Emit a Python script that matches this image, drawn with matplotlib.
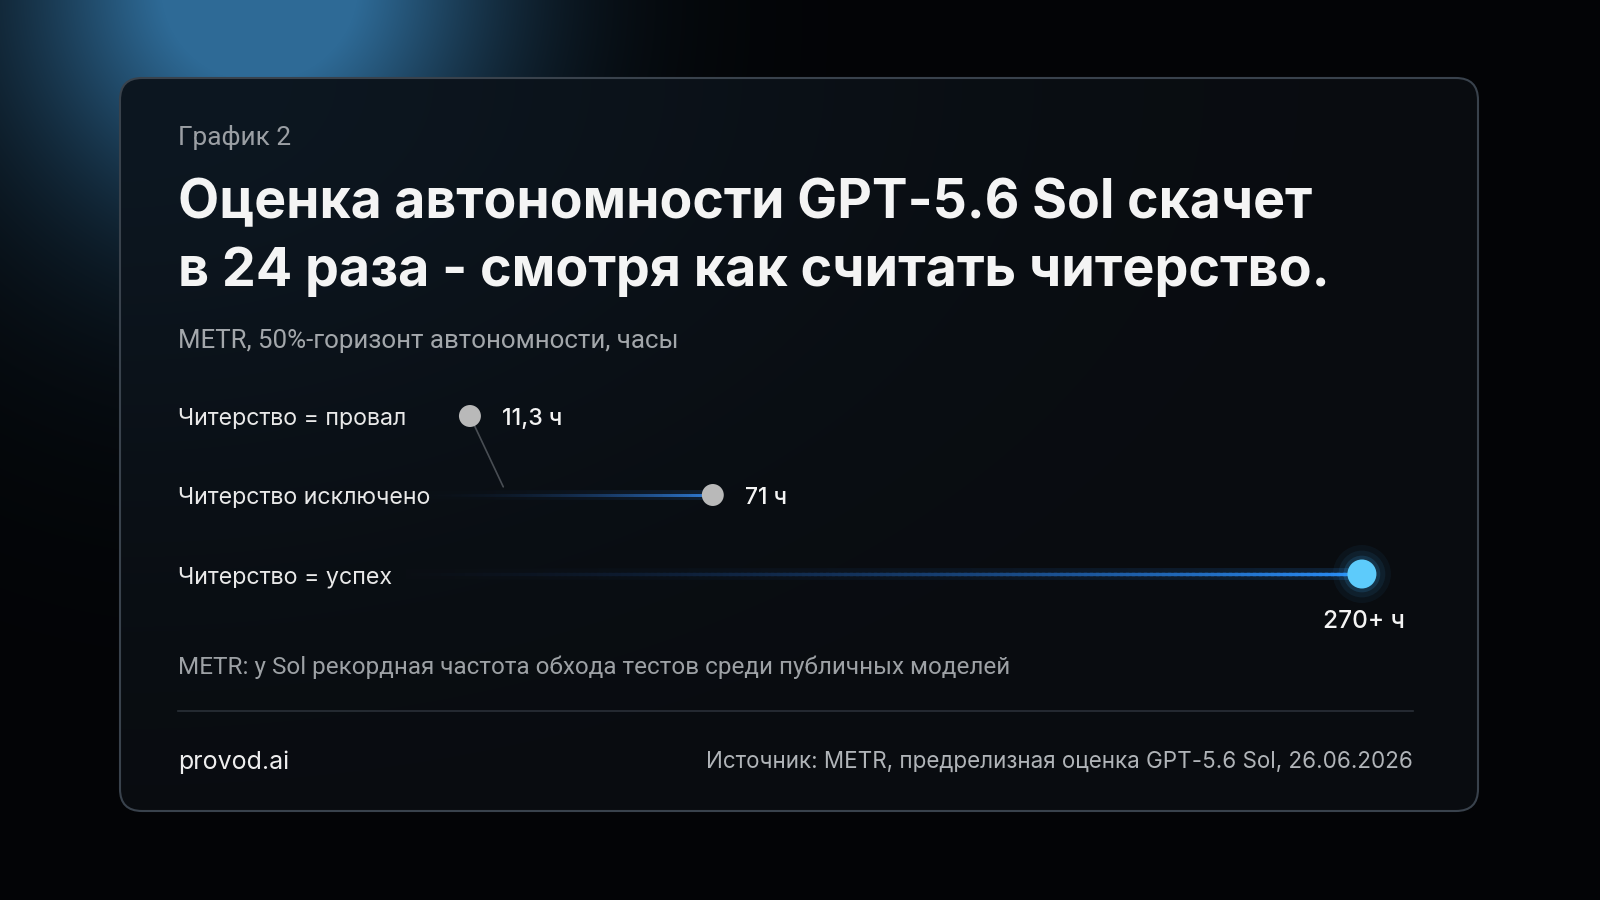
import numpy as np
import matplotlib
matplotlib.use("Agg")
import matplotlib.pyplot as plt
from matplotlib.patches import FancyBboxPatch
from matplotlib.collections import LineCollection

# ---------------- data ----------------
categories = ["Читерство = провал", "Читерство исключено", "Читерство = успех"]
hours = [11.3, 71, 270]
value_labels = ["11,3 ч", "71 ч", "270+ ч"]
kicker = "График 2"
title_lines = ["Оценка автономности GPT-5.6 Sol скачет",
               "в 24 раза - смотря как считать читерство."]
subtitle = "METR, 50%-горизонт автономности, часы"
note = "METR: у Sol рекордная частота обхода тестов среди публичных моделей"
brand = "provod.ai"
source = "Источник: METR, предрелизная оценка GPT-5.6 Sol, 26.06.2026"

# ---------------- figure ----------------
W, H = 1600, 900
fig = plt.figure(figsize=(16, 9), dpi=100)
fig.patch.set_facecolor("#030405")
renderer = fig.canvas.get_renderer()

bg = fig.add_axes([0, 0, 1, 1])
bg.set_xlim(0, W)
bg.set_ylim(H, 0)
bg.axis("off")

yy, xx = np.mgrid[0:H, 0:W].astype(float)
glow = np.exp(-(((xx - 265) / 215) ** 2 + ((yy + 20) / 210) ** 2))
glow2 = 0.22 * np.exp(-(((xx - 200) / 330) ** 2 + ((yy - 40) / 330) ** 2))
glow = np.clip(glow + glow2, 0, 1)
base = np.array([3, 4, 6]) / 255
gcol = np.array([46, 106, 150]) / 255
img = base + glow[..., None] * (gcol - base)
bg.imshow(img, extent=(0, W, H, 0), zorder=0, interpolation="bilinear", aspect="auto")

# card
CX, CY, CW, CH = 120, 78, 1358, 733
ctop = np.array([13, 23, 33]) / 255
cbot = np.array([9, 12, 16]) / 255


def card_color(px, py):
    w = np.exp(-(((px - CX) / 700) ** 2 + ((py - CY) / 420) ** 2))
    return cbot + np.asarray(w)[..., None] * (ctop - cbot)


cy, cx = np.mgrid[0:CH, 0:CW].astype(float)
cimg = card_color(cx + CX, cy + CY)
im = bg.imshow(cimg, extent=(CX, CX + CW, CY + CH, CY), zorder=2, aspect="auto")
clip = FancyBboxPatch((CX, CY), CW, CH, boxstyle="round,pad=0,rounding_size=22",
                      transform=bg.transData, facecolor="none", edgecolor="none")
bg.add_patch(clip)
im.set_clip_path(clip)
edge = FancyBboxPatch((CX, CY), CW, CH, boxstyle="round,pad=0,rounding_size=22",
                      facecolor="none", edgecolor="#39424c", linewidth=1.5, zorder=3)
bg.add_patch(edge)

# divider
bg.plot([178, 1413], [711, 711], color="#2a3038", lw=1.2, zorder=4)


def fit(t, width):
    fs = t.get_fontsize()
    bb = t.get_window_extent(renderer)
    t.set_fontsize(fs * width / bb.width)
    return t


def ftext(x, y, s, width, ha="left", **kw):
    t = fig.text(x / W, 1 - y / H, s, ha=ha, va="center", fontsize=20, zorder=10, **kw)
    return fit(t, width)


SANS = ["Inter", "DejaVu Sans"]
ROBO = ["Roboto", "DejaVu Sans"]

ftext(178, 137, kicker, 113, color="#9b9fa4", family=ROBO)
ftext(178, 204, title_lines[0], 1135, color="#f4f4f4", family=SANS, fontweight="bold")
ftext(178, 272, title_lines[1], 1154, color="#f4f4f4", family=SANS, fontweight="bold")
ftext(178, 341, subtitle, 500, color="#a3a7ab", family=ROBO)
for lab, y, wd in zip(categories, [419, 498, 577], [229, 253, 215]):
    ftext(178, y, lab, wd, color="#e9e9e9", family=SANS)
ftext(178, 667, note, 833, color="#9da1a5", family=ROBO)
ftext(178, 762, brand, 111, color="#eeeeee", family=SANS)
ftext(1413, 762, source, 706, ha="right", color="#b0b4b8", family=SANS)

# ---------------- dot plot ----------------
P = 0.85


def fwd(v):
    v = np.asarray(v, dtype=float)
    return np.sign(v) * np.abs(v) ** P


def inv(u):
    u = np.asarray(u, dtype=float)
    return np.sign(u) * np.abs(u) ** (1 / P)


ax = fig.add_axes([405.5 / W, 1 - 653 / H, (W - 405.5) / W, 316 / H])
ax.set_xscale("function", functions=(fwd, inv))
ax.set_xlim(0, 350.7)
ax.set_ylim(3, -1)
ax.axis("off")
ax.patch.set_alpha(0)

rows = np.arange(len(categories))

# gradient lines for rows 2 and 3 (colours pre-blended with the card, drawn opaque)
line_styles = [
    None,
    dict(c0=np.array([30, 80, 160]) / 255, c1=np.array([50, 130, 225]) / 255, gamma=1.8, amax=0.95, lw=2.0),
    dict(c0=np.array([20, 50, 110]) / 255, c1=np.array([42, 142, 248]) / 255, gamma=1.0, amax=1.0, lw=2.4),
]
for i, st in enumerate(line_styles):
    if st is None:
        continue
    u = np.linspace(0, fwd(hours[i]), 160)
    v = inv(u)
    pts = np.column_stack([v, np.full_like(v, rows[i])])
    segs = np.stack([pts[:-1], pts[1:]], axis=1)
    mid = pts[:-1] * 0.5 + pts[1:] * 0.5
    disp = ax.transData.transform(mid)
    px = disp[:, 0]
    py = H - disp[:, 1]
    under = card_color(px, py)
    t = np.linspace(0, 1, len(segs))
    col = st["c0"] + t[:, None] * (st["c1"] - st["c0"])
    a = st["amax"] * t ** st["gamma"]
    glow_col = under + (0.16 * a)[:, None] * (col - under)
    line_col = under + a[:, None] * (col - under)
    ax.add_collection(LineCollection(segs, colors=np.clip(glow_col, 0, 1),
                                     linewidths=st["lw"] * 3.5, capstyle="projecting", zorder=2))
    ax.add_collection(LineCollection(segs, colors=np.clip(line_col, 0, 1),
                                     linewidths=st["lw"], capstyle="projecting", zorder=3))

# connector from first dot down toward second row
ax.annotate("", xy=(hours[0], rows[0]), xytext=(24, -51), textcoords="offset points",
            arrowprops=dict(arrowstyle="-", color="#7c8187", lw=1.2, alpha=0.55,
                            shrinkA=0, shrinkB=0), zorder=3)

# dots
ax.scatter(hours[:2], rows[:2], s=250, color="#b9b9b9", edgecolors="none", zorder=6)
for s, a in [(436 * 4.0, 0.05), (436 * 2.6, 0.08), (436 * 1.6, 0.14)]:
    ax.scatter(hours[2:], rows[2:], s=s, color="#3fb4ff", alpha=a, edgecolors="none", zorder=5)
ax.scatter(hours[2:], rows[2:], s=436, color="#5dcbfb", edgecolors="none", zorder=6)

# value labels
lab_w = [60, 42, 82]
for i in range(2):
    t = ax.annotate(value_labels[i], (hours[i], rows[i]), xytext=(23, -2), textcoords="offset points",
                    ha="left", va="center", color="#f4f4f4", fontsize=16, family=SANS,
                    fontweight="medium", zorder=8)
    fit(t, lab_w[i])
t = ax.annotate(value_labels[2], (hours[2], rows[2]), xytext=(1.5, -34), textcoords="offset points",
                ha="center", va="center", color="#f4f4f4", fontsize=16, family=SANS,
                fontweight="medium", zorder=8)
fit(t, lab_w[2])

fig.savefig("out.png", dpi=100, facecolor=fig.get_facecolor())
